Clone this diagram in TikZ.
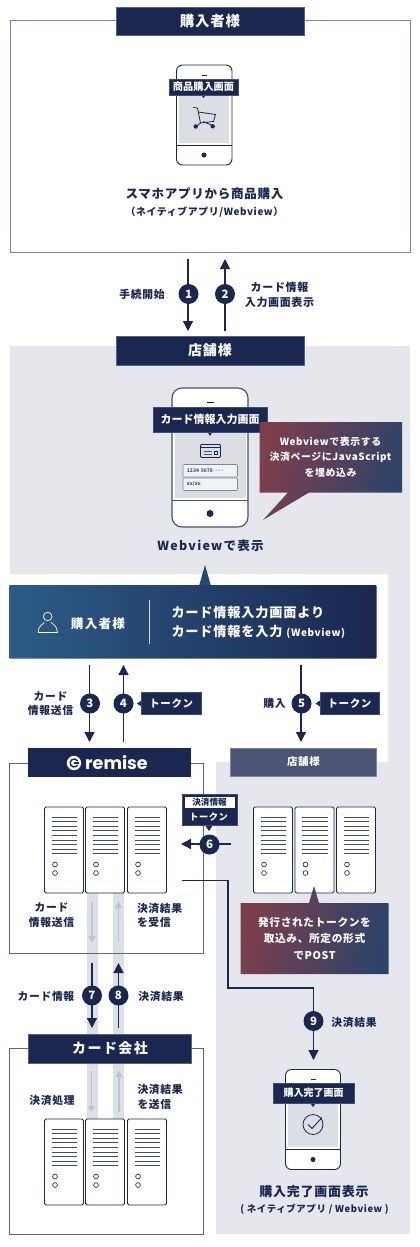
\documentclass[tikz,border=0pt]{standalone}
\usepackage{fontspec}
\usetikzlibrary{arrows.meta,calc}
\setmainfont{Noto Sans CJK JP}
\newfontfamily\jb[LetterSpace=6]{Noto Sans CJK JP}
\newfontfamily\jc[LetterSpace=10]{Noto Sans CJK JP}
\newfontfamily\rem{Poppins}
\newcommand\fsz[2]{\fontsize{#1}{#2}\selectfont}
\definecolor{navy}{HTML}{1A2750}
\definecolor{bd}{HTML}{7C87A4}
\definecolor{bd2}{HTML}{5B6686}
\definecolor{bggray}{HTML}{E6E7EC}
\definecolor{scr}{HTML}{DCDEE4}
\definecolor{strip}{HTML}{DDDFE6}
\definecolor{garrow}{HTML}{BEC3D0}
\definecolor{maroon}{HTML}{7D3E4E}
\definecolor{calblue}{HTML}{2E4369}
\definecolor{barblue}{HTML}{2D5C88}
\definecolor{slate}{HTML}{4B5475}
\tikzset{
  every node/.style={inner sep=0pt,outer sep=0pt},
  lab/.style={text=navy,font=\jb\bfseries\fsz{10.8}{14.5},align=center},
  wlab/.style={text=white,font=\jb\bfseries,align=center},
  bar/.style={fill=navy,draw=bd!60!navy,line width=.5pt,text=white,font=\jb\bfseries,minimum width=188pt,minimum height=28pt},
  num/.style={circle,fill=navy,text=white,minimum size=20pt,font=\bfseries\fsz{11.5}{12}},
  tag/.style={fill=navy,draw=bd!40!navy,line width=.4pt,text=white,font=\jb\bfseries\fsz{10}{12}},
  flow/.style={navy,line width=1.3pt,-{Triangle[length=10pt,width=10pt]}},
  gflow/.style={garrow,line width=1.6pt,-{Triangle[length=6pt,width=7pt]}},
  frame/.style={draw=bd,line width=.9pt},
  frame2/.style={draw=bd2,line width=.9pt},
  phone/.style={draw=navy,fill=white,line width=.9pt,rounded corners=6pt},
  srv/.style={draw=navy,fill=white,line width=.8pt,rounded corners=1.5pt,minimum width=39pt,minimum height=86pt},
}
\newcommand\server[3]{% name, left x, top y
  \node[srv,anchor=north west] (#1) at (#2,#3) {};
  \foreach \k in {0,...,8}{
    \pgfmathsetmacro\yy{#3+10+4.6*\k}
    \draw[navy!82,line width=.85pt] (#2+7,\yy) -- (#2+32.5,\yy);
  }
  \draw[navy,line width=.65pt] (#2+10.5,#3+57.5) circle (2.4pt);
  \draw[navy,line width=.65pt] (#2+10.5,#3+66) circle (2.4pt);
}
\begin{document}
\begin{tikzpicture}[x=1pt,y=-1pt]
\useasboundingbox (0,0) rectangle (420,1247);
\fill[white] (0,0) rectangle (420,1247);
% store background
\fill[bggray] (10,346) -- (410,346) -- (410,1234) -- (216,1234) -- (216,762) -- (388,762) -- (388,574) -- (10,574) -- cycle;
% frames
\node[frame,fill=white,minimum width=400pt,minimum height=231.5pt,anchor=north west] (buyerbox) at (10,20.5) {};
\fill[white] (9,763) rectangle (203,953);
\fill[white] (9,1048) rectangle (203,1234);
% strips
\fill[strip] (86.5,893) rectangle (97.5,1120);
\fill[strip] (113,893) rectangle (124,1120);
\node[frame2,minimum width=194pt,minimum height=190pt,anchor=north west] (remisebox) at (9,763) {};
\node[frame2,minimum width=194pt,minimum height=186pt,anchor=north west] (cardbox) at (9,1048) {};
% title bars
\node[bar,font=\jb\bfseries\fsz{14.4}{16}] (tbuyer) at (210,21) {購入者様};
\node[bar,font=\jb\bfseries\fsz{14}{16},minimum height=29pt] (tstore) at (210,350.5) {店舗様};
\node[bar,minimum width=163pt,minimum height=29pt,draw=none] (tremise) at (109.5,762.5) {};
\node[text=white,font=\rem\bfseries\fsz{17.5}{18}] (remisetext) at (116.5,763) {remise};
\fill[white] (74,763) circle (7.2pt);
\draw[navy,line width=1.4pt] (74+3.6,763-2) arc (30:330:4pt);
\draw[navy,line width=1.4pt] (74,763) -- (74+4.5,763);
\node[bar,font=\jc\bfseries\fsz{14}{16},minimum width=163pt,minimum height=29pt] (tcard) at (110,1048.5) {カード会社};
\node[fill=slate,draw=bd,line width=.5pt,text=white,font=\jb\bfseries\fsz{10.5}{12},minimum width=146pt,minimum height=28pt] (tstore2) at (303.5,762) {店舗様};
% phone 1
\draw[phone] (176.5,65) rectangle (232,165);
\fill[scr] (179,94) rectangle (229,143);
\draw[navy,line width=.9pt] (176.5,145) -- (232,145);
\fill[navy] (204,155) circle (2.5pt);
\draw[navy,line width=.8pt] (201.5,75) -- (206.5,75);
\draw[navy,line width=.8pt,line join=round,line cap=round] (193.5,107.5) -- (197.5,108) -- (200.5,123) -- (196,126.5);
\draw[navy,line width=.8pt,line join=round] (198.5,112) -- (215.5,114.5) -- (213.5,121.5) -- (200.5,123) (203,121.5) -- (212.5,125.5);
\fill[navy] (195.7,126.5) circle (2.2pt) (212.7,126.3) circle (2.2pt);
\fill[navy] (200.5,94) -- (206.5,94) -- (203.5,98) -- cycle;
\node[tag,font=\bfseries\fsz{10.2}{12},minimum width=69pt,minimum height=15.5pt] (p1tag) at (203.5,87) {商品購入画面};
\node[lab,font=\jb\bfseries\fsz{12.5}{15}] (t1a) at (204.5,194) {スマホアプリから商品購入};
\node[lab,font=\jb\bfseries\fsz{9.9}{11}] (t1b) at (204.5,212) {（ネイティブアプリ/Webview）};
% arrows 1,2
\coordinate (a1s) at (188,259); \coordinate (a1e) at (188,331);
\coordinate (a2s) at (225,331); \coordinate (a2e) at (225,259);
\draw[flow] (a1s) -- (a1e);
\draw[flow] (a2s) -- (a2e);
\node[num] (n1) at (188.5,294) {1};
\node[num] (n2) at (225,294) {2};
\node[lab] (l1) at (142,294) {手続開始};
\node[lab,font=\jb\bfseries\fsz{11}{15}] (l2) at (279.5,294.5) {カード情報\\入力画面表示};
% phone 2
\draw[phone,draw=slate!90!navy,line width=1.1pt,rounded corners=10pt] (172,388) rectangle (248,527);
\fill[scr] (175,429) rectangle (246,498);
\draw[slate,line width=1pt] (172,500) -- (248,500);
\fill[navy] (210,513.5) circle (3.5pt);
\draw[navy,line width=.9pt] (206.5,402) -- (213.5,402);
\fill[navy] (207,431) -- (213,431) -- (210,436) -- cycle;
\node[tag,font=\bfseries\fsz{11}{12},minimum width=114pt,minimum height=25pt] (p2tag) at (210,419.5) {カード情報入力画面};
\draw[navy,line width=.8pt,rounded corners=1pt,fill=scr] (200.5,444.5) rectangle (220.5,457.5);
\draw[navy,line width=1.3pt] (200.5,447.5) -- (220.5,447.5);
\draw[slate,line width=.7pt] (203.5,451.5) -- (211.5,451.5) (203.5,454) -- (211.5,454);
\draw[navy,line width=.7pt] (214.5,451) rectangle (217.5,454.5);
\node[fill=white!60!scr,draw=bd,line width=.6pt,rounded corners=1pt,minimum width=54.5pt,minimum height=12.5pt,anchor=north west,text=slate,font=\bfseries\fsz{5}{6},text width=50pt,align=left] (in1) at (183,464.5) {\ 1234 5678 ···};
\node[fill=white!60!scr,draw=bd,line width=.6pt,rounded corners=1pt,minimum width=54.5pt,minimum height=12.5pt,anchor=north west,text=slate,font=\bfseries\fsz{5}{6},text width=50pt,align=left] (in2) at (183,478) {\ xx/xx};
% callout 1
\shade[left color=maroon,right color=calblue,shading angle=75] (259.5,422) -- (402,422) -- (402,492.5) -- (309,492.5) -- (263,520) -- (288,492.5) -- (259.5,492.5) -- cycle;
\node[wlab,font=\jb\bfseries\fsz{9.9}{15.5}] (c1) at (330.5,457) {Webviewで表示する\\決済ページにJavaScript\\を埋め込み};
\node[lab,font=\jc\bfseries\fsz{12.5}{15}] (t2) at (210.5,546) {Webviewで表示};
% big bar
\fill[barblue!65!navy] (205,565) -- (199,586) -- (211,586) -- cycle;
\shade[left color=barblue,right color=navy,rounded corners=1pt] (9,585) rectangle (376.5,658.5);
\draw[white,line width=.7pt] (47.7,616.5) circle (4.3pt);
\draw[white,line width=.7pt] (38,632.5) .. controls (38.5,626) and (42,624.5) .. (44.5,622.5) (51,622.5) .. controls (53.5,624.5) and (57,626) .. (57.5,632.5) -- (38,632.5);
\node[wlab,font=\jc\bfseries\fsz{12.6}{14}] (bb1) at (98,624) {購入者様};
\draw[white!80!navy,line width=.9pt] (149,600) -- (149,644);
\node[wlab,anchor=west,font=\jb\bfseries\fsz{13.2}{19.5},align=left] (bb2) at (171.5,622.5) {カード情報入力画面より\\カード情報を入力 {\fsz{10}{12}(Webview)}};
% arrows 3,4,5
\coordinate (a3s) at (89.5,665); \coordinate (a3e) at (89.5,742);
\coordinate (a4s) at (123.5,742); \coordinate (a4e) at (123.5,665);
\coordinate (a5s) at (301,665); \coordinate (a5e) at (301,742);
\draw[flow] (a3s) -- (a3e);
\draw[flow] (a4s) -- (a4e);
\draw[flow] (a5s) -- (a5e);
\node[num] (n3) at (90,703.5) {3};
\node[num] (n4) at (123.5,703.5) {4};
\node[num] (n5) at (301.5,703.5) {5};
\fill[navy] (141.5,700.5) -- (137,703.5) -- (141.5,706.5) -- cycle;
\fill[navy] (320,700.5) -- (315.5,703.5) -- (320,706.5) -- cycle;
\node[tag,minimum width=59.5pt,minimum height=22pt,font=\jb\bfseries\fsz{10.5}{12}] (tok4) at (171.3,703.5) {トークン};
\node[tag,minimum width=59.5pt,minimum height=22pt,font=\jb\bfseries\fsz{10.5}{12}] (tok5) at (349.5,703.5) {トークン};
\node[lab,font=\jb\bfseries\fsz{10.8}{13.5}] (l3) at (50.5,703.5) {カード\\情報送信};
\node[lab] (l5) at (274.5,703.5) {購入};
% servers
\server{s1}{44.5}{807}\server{s2}{85.5}{807}\server{s3}{127.5}{807}
\server{s4}{253.5}{807}\server{s5}{295}{807}\server{s6}{336.5}{807}
\server{s7}{44.5}{1119}\server{s8}{85.5}{1119}\server{s9}{127.5}{1119}
% token 6
\coordinate (a6s) at (231,844); \coordinate (a6e) at (181,844);
\draw[flow] (a6s) -- (a6e);
\fill[navy] (205,825) -- (213,825) -- (209,831) -- cycle;
\node[tag,minimum width=55pt,minimum height=31pt] (tok6) at (209.5,809.5) {};
\node[fill=white,text=navy,font=\bfseries\fsz{8.6}{9},minimum width=50pt,minimum height=11pt] (tok6a) at (209.5,802.7) {決済情報};
\node[wlab,font=\jb\bfseries\fsz{9.2}{11}] (tok6b) at (208.5,816.5) {トークン};
\node[num] (n6) at (209.5,844.5) {6};
% grey arrows
\coordinate (g1s) at (92,902); \coordinate (g1e) at (92,942);
\coordinate (g2s) at (118.5,942); \coordinate (g2e) at (118.5,902);
\coordinate (g3s) at (91.5,1071); \coordinate (g3e) at (91.5,1112);
\coordinate (g4s) at (119,1112); \coordinate (g4e) at (119,1071);
\draw[gflow] (g1s) -- (g1e);
\draw[gflow] (g2s) -- (g2e);
\draw[gflow] (g3s) -- (g3e);
\draw[gflow] (g4s) -- (g4e);
% remise labels
\node[lab] (l6) at (51.5,915) {カード\\情報送信};
\node[lab,align=left,anchor=west] (l7) at (137,915.5) {決済結果\\を受信};
% arrows 7,8
\coordinate (a7s) at (92,963); \coordinate (a7e) at (92,1028);
\coordinate (a8s) at (118.5,1028); \coordinate (a8e) at (118.5,963);
\draw[flow] (a7s) -- (a7e);
\draw[flow] (a8s) -- (a8e);
\node[num] (n7) at (92,995.5) {7};
\node[num] (n8) at (118.5,995.5) {8};
\node[lab] (l8) at (46,996) {カード情報};
\node[lab] (l9) at (161,996) {決済結果};
\node[lab] (l10) at (52,1100) {決済処理};
\node[lab,align=left,anchor=west] (l11) at (137.5,1097) {決済結果\\を送信};
% flow 9
\coordinate (f9s) at (182,880.5); \coordinate (f9b1) at (228,880.5);
\coordinate (f9b2) at (228,988); \coordinate (f9b3) at (313.5,988); \coordinate (f9e) at (313.5,1060);
\draw[navy,line width=1.3pt,line join=miter] (f9s) -- (f9b1) -- (f9b2) -- (f9b3);
\draw[flow] (f9b3) -- (f9e);
\node[num] (n9) at (313.5,1021) {9};
\node[lab] (l12) at (354,1022) {決済結果};
% callout 2
\shade[left color=maroon,right color=calblue,shading angle=75] (240.5,903) -- (309,903) -- (314,886) -- (319,903) -- (388.5,903) -- (388.5,974) -- (240.5,974) -- cycle;
\node[wlab,font=\jb\bfseries\fsz{10.7}{16.5}] (c2) at (314.5,938.5) {発行されたトークンを\\取込み、所定の形式\\でPOST};
% phone 3
\draw[phone] (285.5,1069.5) rectangle (340.5,1169.5);
\fill[scr] (288,1104) rectangle (338,1147);
\draw[navy,line width=.9pt] (285.5,1149.5) -- (340.5,1149.5);
\fill[navy] (313,1159.5) circle (2.5pt);
\draw[navy,line width=.8pt] (310.5,1079.5) -- (315.5,1079.5);
\fill[navy] (310,1103) -- (316,1103) -- (313,1107) -- cycle;
\node[tag,font=\bfseries\fsz{10}{12},minimum width=81pt,minimum height=20pt] (p3tag) at (313.5,1093) {購入完了画面};
\draw[navy,line width=.8pt] (313,1124.5) circle (10pt);
\draw[navy,line width=.9pt] (308,1124.5) -- (312,1128.5) -- (322,1117.5);
\node[lab,font=\jb\bfseries\fsz{13}{15}] (t3a) at (314,1192) {購入完了画面表示};
\node[lab,font=\jb\bfseries\fsz{9.5}{11}] (t3b) at (314.5,1209) {( ネイティブアプリ / Webview )};
\end{tikzpicture}
\end{document}
